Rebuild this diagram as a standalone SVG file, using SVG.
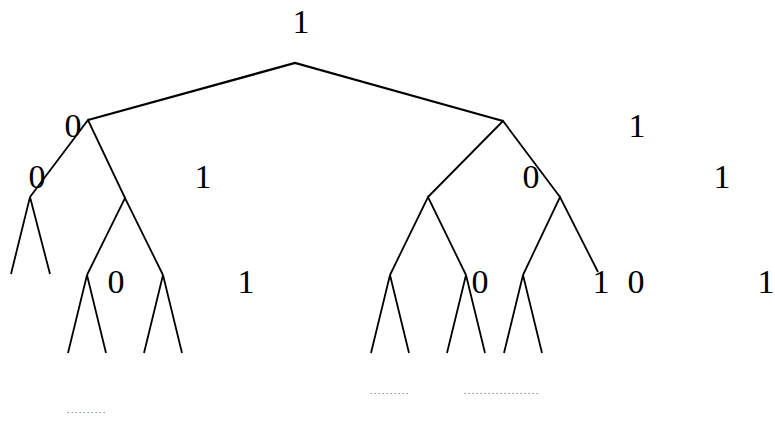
<svg xmlns="http://www.w3.org/2000/svg" width="775" height="424" viewBox="0 0 775 424">
<style>
.e{stroke:#000;stroke-width:1.8;fill:none;stroke-linecap:butt}
.t{stroke-width:2.3}
.l{font-family:"Liberation Serif","Times New Roman",serif;font-size:34px;fill:#000;text-anchor:middle}
.d{font-family:"Liberation Serif","Times New Roman",serif;font-size:9px;letter-spacing:1.75px;fill:#000}
</style>
<rect width="775" height="424" fill="#fff"/>
<g id="connectors">
<path class="e t" d="M88,120 L295,63 L503,121"/>
<path class="e" d="M30,197 L88,120 L125,198"/>
<path class="e" d="M11,274 L30,197 L50,274"/>
<path class="e" d="M87,275 L125,198 L163,275"/>
<path class="e" d="M68,353 L87,275 L106,353"/>
<path class="e" d="M144,353 L163,275 L182,353"/>
<path class="e" d="M428,197 L503,121 L560,197"/>
<path class="e" d="M390,275 L428,197 L466,275"/>
<path class="e" d="M523,275 L560,197 L598,272"/>
<path class="e" d="M371,353 L390,275 L409,353"/>
<path class="e" d="M447,353 L466,275 L485,353"/>
<path class="e" d="M504,353 L523,275 L542,353"/>
</g>
<g id="labels">
<text class="l" x="301" y="33">1</text>
<text class="l" x="73" y="137">0</text>
<text class="l" x="637" y="137">1</text>
<text class="l" x="37" y="188">0</text>
<text class="l" x="203" y="188">1</text>
<text class="l" x="531" y="188">0</text>
<text class="l" x="722" y="188">1</text>
<text class="l" x="116" y="293">0</text>
<text class="l" x="246" y="293">1</text>
<text class="l" x="480" y="293">0</text>
<text class="l" x="601" y="293">1</text>
<text class="l" x="636" y="293">0</text>
<text class="l" x="766" y="293">1</text>
</g>
<g id="ellipses">
<text class="d" x="67" y="413">..........</text>
<text class="d" x="370" y="394">..........</text>
<text class="d" x="464" y="394">...................</text>
</g>
</svg>
